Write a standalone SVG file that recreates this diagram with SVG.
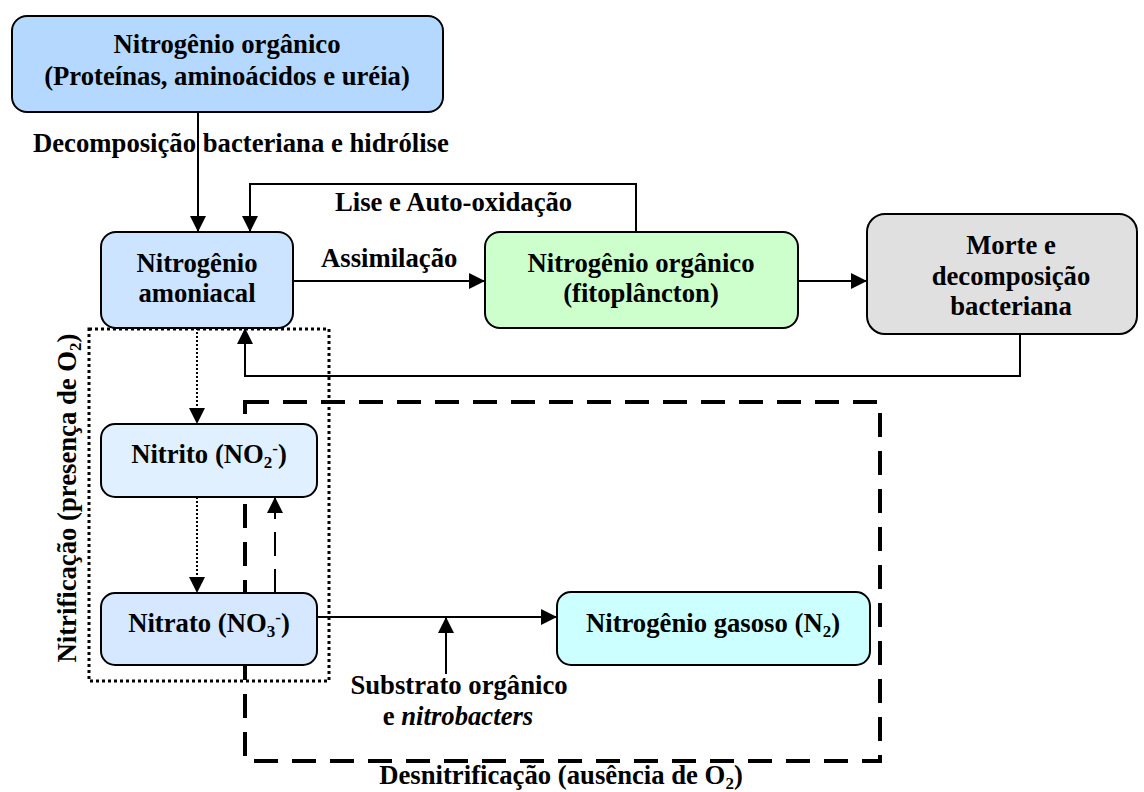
<svg xmlns="http://www.w3.org/2000/svg" width="1144" height="792" viewBox="0 0 1144 792">
  <style>
    text { font-family: 'Liberation Serif', 'DejaVu Serif', serif; font-weight: 700; font-size: 26.7px; fill: #000; }
    .c { text-anchor: middle; }
    .box { stroke: #000; stroke-width: 2; }
    .ln { fill: none; stroke: #000; stroke-width: 2; }
    .sm { font-size: 17px; }
  </style>
  <defs>
    <marker id="ah" viewBox="0 0 16 16" refX="16" refY="8" markerWidth="16" markerHeight="16" markerUnits="userSpaceOnUse" orient="auto">
      <path d="M0,0 L16,8 L0,16 Z" fill="#000"/>
    </marker>
  </defs>

  <rect width="1144" height="792" fill="#fff"/>

  <!-- Process regions -->
  <g id="regions">
    <rect id="denitrification-zone" x="245" y="402" width="635" height="359" fill="none" stroke="#000" stroke-width="4" stroke-dasharray="24 14"/>
    <rect id="nitrification-zone" x="89" y="329" width="240" height="352" fill="none" stroke="#000" stroke-width="3" stroke-dasharray="3 3"/>
  </g>

  <!-- Connectors -->
  <g id="connectors">
    <path class="ln" d="M198,112 V232" marker-end="url(#ah)"/>
    <path class="ln" d="M636,232 V184 H250 V232" marker-end="url(#ah)"/>
    <path class="ln" d="M293,281 H485" marker-end="url(#ah)"/>
    <path class="ln" d="M798,281 H867" marker-end="url(#ah)"/>
    <path class="ln" d="M1020,334 V376 H245 V328" marker-end="url(#ah)"/>
    <path class="ln" d="M197,328 V424" stroke-dasharray="2 2" marker-end="url(#ah)"/>
    <path class="ln" d="M197,497 V593" stroke-dasharray="2 2" marker-end="url(#ah)"/>
    <path class="ln" d="M275,593 V497" stroke-width="4" stroke-dasharray="24 13" marker-end="url(#ah)"/>
    <path class="ln" d="M317,617 H557" marker-end="url(#ah)"/>
    <path class="ln" d="M446,674 V617" marker-end="url(#ah)"/>
  </g>

  <!-- Nodes -->
  <g id="organic-nitrogen">
    <rect class="box" x="12" y="16" width="431" height="96" rx="15" fill="#b4d8ff"/>
    <text class="c" x="227" y="53">Nitrogênio orgânico</text>
    <text class="c" x="227" y="85">(Proteínas, aminoácidos e uréia)</text>
  </g>

  <g id="ammonia">
    <rect class="box" x="101" y="232" width="192" height="96" rx="15" fill="#cce4ff"/>
    <text class="c" x="197" y="272">Nitrogênio</text>
    <text class="c" x="197" y="302">amoniacal</text>
  </g>

  <g id="phytoplankton">
    <rect class="box" x="485" y="232" width="313" height="96" rx="15" fill="#ccffcc"/>
    <text class="c" x="641" y="272">Nitrogênio orgânico</text>
    <text class="c" x="641" y="302">(fitoplâncton)</text>
  </g>

  <g id="death-decomposition">
    <rect class="box" x="867" y="214" width="270" height="120" rx="18" fill="#e0e0e0"/>
    <text class="c" x="1011" y="254">Morte e</text>
    <text class="c" x="1011" y="285">decomposição</text>
    <text class="c" x="1011" y="315">bacteriana</text>
  </g>

  <g id="nitrite">
    <rect class="box" x="101" y="424" width="216" height="73" rx="14" fill="#e0f0ff"/>
    <text class="c" x="209" y="463">Nitrito (NO<tspan class="sm" dy="5">2</tspan><tspan class="sm" dy="-14">-</tspan><tspan dy="9">)</tspan></text>
  </g>

  <g id="nitrate">
    <rect class="box" x="101" y="593" width="216" height="72" rx="14" fill="#d6e8ff"/>
    <text class="c" x="209" y="632">Nitrato (NO<tspan class="sm" dy="5">3</tspan><tspan class="sm" dy="-14">-</tspan><tspan dy="9">)</tspan></text>
  </g>

  <g id="nitrogen-gas">
    <rect class="box" x="557" y="592" width="313" height="73" rx="14" fill="#ccffff"/>
    <text class="c" x="713" y="632">Nitrogênio gasoso (N<tspan class="sm" dy="5">2</tspan><tspan dy="-5">)</tspan></text>
  </g>

  <!-- Labels -->
  <g id="labels">
    <text x="33" y="152">Decomposição bacteriana e hidrólise</text>
    <text x="335" y="211">Lise e Auto-oxidação</text>
    <text x="321" y="267">Assimilação</text>
    <text class="c" x="459" y="694">Substrato orgânico</text>
    <text class="c" x="458" y="725">e <tspan font-style="italic">nitrobacters</tspan></text>
    <text class="c" x="561" y="784">Desnitrificação (ausência de O<tspan class="sm" dy="5">2</tspan><tspan dy="-5">)</tspan></text>
    <text class="c" transform="translate(76,498) rotate(-90)">Nitrificação (presença de O<tspan class="sm" dy="5">2</tspan><tspan dy="-5">)</tspan></text>
  </g>
</svg>
